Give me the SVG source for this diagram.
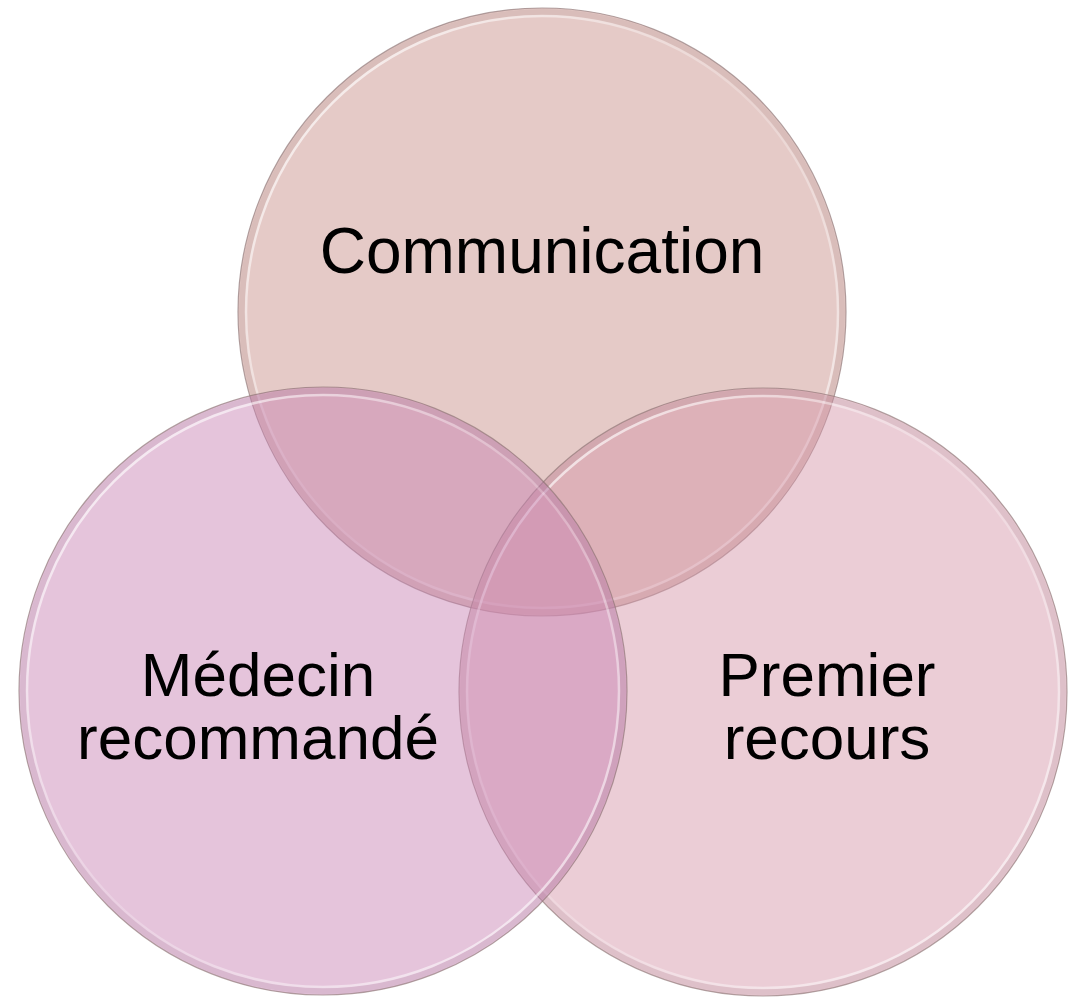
<svg xmlns="http://www.w3.org/2000/svg" width="1068" height="999" viewBox="0 0 1068 999">
<style>
.fill{stroke:none}
.edge{fill:none;stroke:#8a7272;stroke-opacity:0.65;stroke-width:1.2}
.band{fill:none;stroke-width:6;stroke-opacity:0.13}
.hl{fill:none;stroke-width:2.5;stroke-opacity:0.8}
.lbl{font-family:"Liberation Sans",Arial,sans-serif;fill:#000000;text-anchor:middle}
.big{font-size:64px}
.mid{font-size:62px}
</style>
<defs>
<linearGradient id="hlGrad" x1="0" y1="0" x2="1" y2="1">
<stop offset="0" stop-color="#fff" stop-opacity="1"/>
<stop offset="0.5" stop-color="#fff" stop-opacity="0.25"/>
<stop offset="1" stop-color="#fff" stop-opacity="0.9"/>
</linearGradient>
</defs>
<rect width="1068" height="999" fill="#ffffff"/>
<g id="node-communication">
<circle class="fill" cx="542" cy="312" r="304" fill="#c88e88" fill-opacity="0.47"/>
<circle class="band" cx="542" cy="312" r="300" stroke="#8a6a66"/>
<circle class="hl" cx="542" cy="312" r="296" stroke="url(#hlGrad)"/>
<circle class="edge" cx="542" cy="312" r="304"/>
</g>
<g id="node-premier">
<circle class="fill" cx="763" cy="692" r="304" fill="#d494a8" fill-opacity="0.47"/>
<circle class="band" cx="763" cy="692" r="300" stroke="#8a6a72"/>
<circle class="hl" cx="763" cy="692" r="296" stroke="url(#hlGrad)"/>
<circle class="edge" cx="763" cy="692" r="304"/>
</g>
<g id="node-medecin">
<circle class="fill" cx="323" cy="691" r="304" fill="#c882b2" fill-opacity="0.47"/>
<circle class="band" cx="323" cy="691" r="300" stroke="#8a6a80"/>
<circle class="hl" cx="323" cy="691" r="296" stroke="url(#hlGrad)"/>
<circle class="edge" cx="323" cy="691" r="304"/>
</g>
<g id="connectors"></g>
<g id="labels">
<text class="lbl big" x="542" y="273">Communication</text>
<text class="lbl mid" x="258" y="696">Médecin</text>
<text class="lbl mid" x="258" y="759">recommandé</text>
<text class="lbl mid" x="827" y="696">Premier</text>
<text class="lbl mid" x="827" y="759">recours</text>
</g>
</svg>
